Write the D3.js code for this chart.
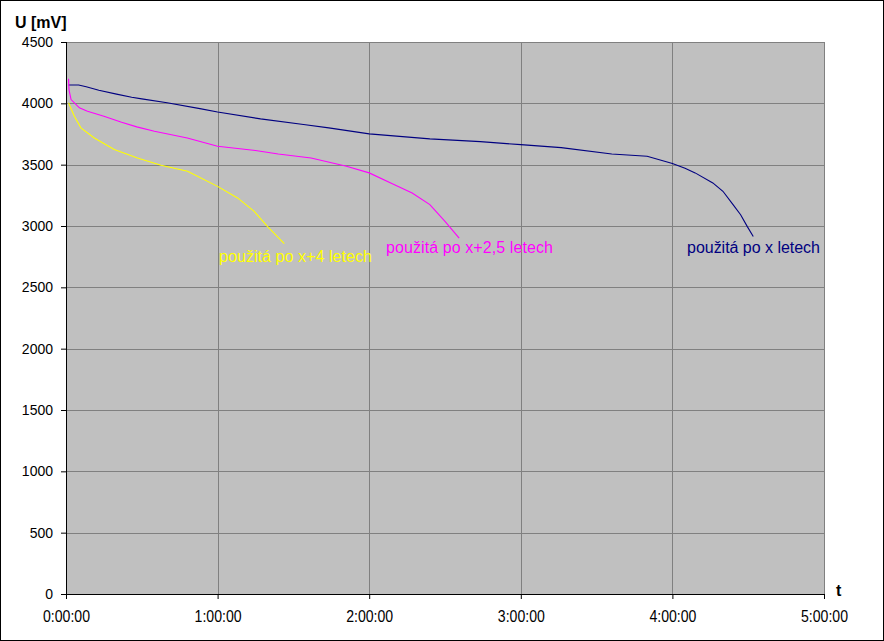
<!DOCTYPE html>
<html><head><meta charset="utf-8">
<script src="https://cdn.jsdelivr.net/npm/d3@7"></script>
<style>
html,body{margin:0;padding:0;background:#fff;}
svg{display:block;}
text{font-family:"Liberation Sans",Arial,sans-serif;}
</style></head><body>
<script>
// time in minutes, voltage in mV
const blueT = [1,5,8,13,20,26,30,40,53,60,77,94,104,120,144,164,180,196,216,230,240,245,249,256,260,264,267,269.6,272];
const blueV = [4150,4150,4135,4107,4075,4050,4036,4005,3957,3930,3873,3827,3800,3751,3710,3688,3663,3639,3587,3568,3510,3470,3433,3351,3283,3174,3092,2997,2915];
const magT = [1,1.2,2,5.3,8.5,15,22,28,35,48,60,75,84,97,111,120,130,137,144,150,155.6];
const magV = [4200,4110,4031,3963,3935,3894,3846,3808,3772,3718,3650,3615,3587,3555,3487,3433,3337,3269,3174,3038,2902];
const yelT = [1,3.3,5.9,11.2,19.1,28.3,37.6,48.1,60,67.9,74.5,79.7,86.4];
const yelV = [4004,3895,3800,3718,3623,3555,3495,3446,3323,3229,3119,2997,2856];
const seriesNames = ["použitá po x letech","použitá po x+2,5 letech","použitá po x+4 letech"];
const seriesColors = ["#000080","#FF00FF","#FFFF00"];
const yTicks = [0,500,1000,1500,2000,2500,3000,3500,4000,4500];
const xTicks = [0,60,120,180,240,300];
const yTitle = "U [mV]";
const xTitle = "t";

const W=884,H=641;
const svg=d3.select("body").append("svg").attr("width",W).attr("height",H);
svg.append("rect").attr("x",0.5).attr("y",0.5).attr("width",W-1).attr("height",H-1).attr("fill","#fff").attr("stroke","#000");

const x=d3.scaleLinear().domain([0,300]).range([66,824]);
const y=d3.scaleLinear().domain([0,4500]).range([594,42]);

svg.append("rect").attr("x",x(0)).attr("y",y(4500)).attr("width",x(300)-x(0)).attr("height",y(0)-y(4500)).attr("fill","#C0C0C0");

const g=svg.append("g");
yTicks.slice(1).forEach(v=>{
  g.append("line").attr("x1",x(0)).attr("x2",x(300)).attr("y1",Math.round(y(v))+0.5).attr("y2",Math.round(y(v))+0.5).attr("stroke","#808080");
});
xTicks.slice(1).forEach(v=>{
  g.append("line").attr("y1",y(0)).attr("y2",y(4500)).attr("x1",Math.round(x(v))+0.5).attr("x2",Math.round(x(v))+0.5).attr("stroke","#808080");
});

const fmt=m=>{const h=Math.floor(m/60),mm=Math.floor(m%60),ss=Math.round((m*60)%60);return h+":"+String(mm).padStart(2,"0")+":"+String(ss).padStart(2,"0");};

const yAxis=svg.append("g").attr("transform",`translate(${x(0)},0)`).call(d3.axisLeft(y).tickValues(yTicks).tickSize(5).tickPadding(8).tickFormat(d=>d));
const xAxis=svg.append("g").attr("transform",`translate(0,${y(0)})`).call(d3.axisBottom(x).tickValues(xTicks).tickSize(5).tickPadding(6).tickFormat(fmt));
[yAxis,xAxis].forEach(a=>{a.selectAll("path,line").attr("stroke","#000");a.selectAll("text").attr("font-family","'Liberation Sans',Arial,sans-serif").attr("fill","#000");});
yAxis.select(".domain").attr("d",`M0.5,${y(0)+5}V${y(4500)}`);
xAxis.select(".domain").attr("d",`M${x(0)-5},0.5H${x(300)}`);
yAxis.selectAll("text").attr("font-size",14);
xAxis.selectAll("text").attr("font-size",16).attr("dy",null).attr("y",28).attr("textLength",47).attr("lengthAdjust","spacingAndGlyphs");

const line=d3.line().x(d=>x(d[0])).y(d=>y(d[1]));
const sets=[[blueT,blueV],[magT,magV],[yelT,yelV]];
sets.forEach((s,i)=>{
  svg.append("path").datum(s[0].map((t,j)=>[t,s[1][j]])).attr("d",line).attr("fill","none").attr("stroke",seriesColors[i]).attr("stroke-width",1.1);
});

const labelPos=[[687,252.5,133],[386,252.5,167],[219,262,153]];
seriesNames.forEach((n,i)=>{
  svg.append("text").attr("x",labelPos[i][0]).attr("y",labelPos[i][1]).attr("font-size",16)
    .attr("textLength",labelPos[i][2]).attr("lengthAdjust","spacing")
    .attr("fill",seriesColors[i]).text(n);
});

svg.append("text").attr("x",15).attr("y",27.5).attr("font-size",16).attr("font-weight","bold").text(yTitle);
svg.append("text").attr("x",836).attr("y",596).attr("font-size",16).attr("font-weight","bold").text(xTitle);
</script>
</body></html>
